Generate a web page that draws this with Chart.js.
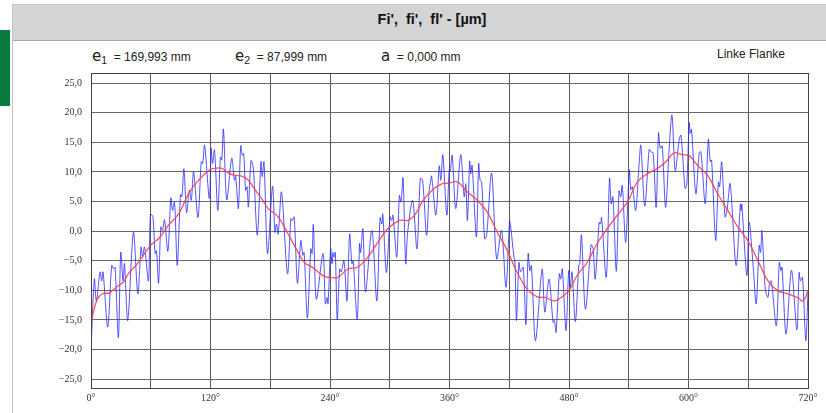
<!DOCTYPE html>
<html><head><meta charset="utf-8">
<script src="https://cdn.jsdelivr.net/npm/chart.js@4.4.1/dist/chart.umd.min.js"></script>
<style>
html,body{margin:0;padding:0;background:#fff;width:826px;height:413px;overflow:hidden;font-family:"Liberation Sans",Arial,sans-serif;}
#green{position:absolute;left:0;top:30px;width:10px;height:76px;background:#087a40;}
#frame{position:absolute;left:12px;top:4px;width:830px;height:420px;border:1px solid #c4c4c4;box-sizing:border-box;}
#head{position:absolute;left:13px;top:5px;width:813px;height:35px;background:#d4d4d4;border-bottom:1px solid #a8a8a8;}
#title{position:absolute;left:38px;width:788px;top:11px;text-align:center;font-weight:bold;font-size:14.5px;color:#111;white-space:pre;}
.info{position:absolute;top:47px;font-size:12px;color:#222;white-space:pre;}
.sym{font-size:15px;font-family:"DejaVu Sans",sans-serif;}
.sub{font-size:10.5px;position:relative;top:3px;}
canvas{position:absolute;left:0;top:0;}
</style></head><body>
<div id="green"></div>
<div id="frame"></div>
<div id="head"></div>
<div id="title">Fi',  fi',  fl' - [µm]</div>
<div class="info" style="left:92px"><span class="sym">e</span><span class="sub">1</span>  = 169,993 mm</div>
<div class="info" style="left:235px"><span class="sym">e</span><span class="sub">2</span>  = 87,999 mm</div>
<div class="info" style="left:381px"><span class="sym">a</span>  = 0,000 mm</div>
<div class="info" style="right:41px">Linke Flanke</div>
<canvas id="c" width="826" height="413"></canvas>
<script>
const xTicks = [0,60,120,180,240,300,360,420,480,540,600,660,720];
const yTicks = [-25,-20,-15,-10,-5,0,5,10,15,20,25];

const blueAngles = [0,3.4,5.4,9.1,10.7,12.1,16.8,20.8,22.8,24.2,27.5,29.9,32.2,33.6,36.9,42.6,47.0,50.3,51.7,53.7,57.7,59.7,62.1,64.4,65.8,67.8,70.1,71.8,73.8,77.2,80.2,81.9,83.9,86.6,89.9,91.3,93.3,96.0,98.7,100.7,103.0,107.4,110.7,112.1,114.1,118.8,
120.7,122.0,124.0,127.3,130.0,131.3,133.0,136.3,141.3,144.0,145.3,148.0,150.3,152.0,153.3,155.3,156.7,158.0,160.7,163.0,167.0,170.7,172.0,173.7,177.3,182.3,184.7,186.3,188.0,191.3,197.3,200.7,202.0,204.0,207.3,210.7,212.7,214.0,217.3,220.7,222.0,223.3,226.3,233.0,235.3,237.0,238.0,
240.7,242.0,243.0,244.0,245.3,247.3,249.7,251.3,254.0,257.0,259.7,262.0,263.3,267.3,269.7,270.7,273.0,275.7,282.0,287.0,290.3,292.0,293.0,296.7,300.3,302.0,303.3,307.0,309.7,311.3,313.3,316.0,318.0,323.0,327.3,330.7,333.0,337.0,339.7,340.7,342.0,346.3,349.7,351.3,353.3,357.3,
359.7,360.7,362.7,366.3,371.3,374.7,376.3,378.0,380.3,381.3,382.7,387.0,389.3,390.7,392.3,395.3,397.3,402.3,407.3,412.3,416.7,420.3,421.3,424.7,425.7,427.3,429.7,431.3,434.0,436.7,439.0,440.7,442.3,446.3,453.0,455.7,460.0,464.0,465.3,467.0,470.3,471.7,473.3,477.0,479.7,
481.3,483.0,486.4,489.8,490.8,492.5,496.5,502.2,504.2,506.3,510.3,511.6,512.7,517.4,520.7,522.4,524.1,527.5,530.2,531.9,533.5,536.9,540.6,542.0,543.6,547.0,550.4,552.1,556.1,560.5,562.2,564.5,567.5,569.9,571.6,573.6,577.0,580.7,583.4,586.7,590.8,592.5,596.5,598.2,
600.7,601.7,603.0,607.4,610.8,612.5,616.8,619.9,621.9,623.2,627.3,630.0,631.3,633.3,636.7,638.7,641.8,647.8,652.2,652.9,653.5,658.6,660.9,665.0,668.0,671.0,672.4,673.7,677.1,679.8,681.5,683.2,688.2,691.2,692.9,693.9,698.0,703.4,708.8,711.1,712.5,714.5,717.8,720.0];
const blueValues = [-20,-8.1,-11.8,-6.9,-8.4,-6.9,-16.2,-5.8,-6.4,-6.1,-18.0,-3.6,-8.4,-5.5,-15.1,-0.2,-10.6,-2.7,-4.4,-2.7,-8.4,2.8,2.5,-3.8,-3.3,-8.8,0.7,0.1,1.9,-3.4,5.6,3.5,4.9,-5.8,6.2,5.8,10.5,3.1,6.9,5.2,10.0,2.3,11.7,11.4,14.5,5.5,
14.0,11.4,13.7,3.5,12.5,12.0,17.2,5.3,12.3,8.6,9.2,3.8,14.4,12.8,13.1,6.9,7.5,4.1,11.9,10.6,-0.7,11.7,9.2,11.7,-3.8,7.6,-0.2,1.2,-0.5,6.6,-7.2,2.1,1.8,2.4,-8.8,-1.6,-4.1,-3.6,-14.7,-3.0,-3.8,1.1,-11.5,-3.8,-12.3,-11.2,-12.3,
-3.0,-5.5,-3.6,-4.4,-3.6,-15.0,-6.4,-6.9,-5.0,-11.8,-0.5,-5.5,-5.0,-15.0,-2.1,-3.6,0.4,-10.3,0.1,-11.8,2.3,1.2,2.9,-7.0,2.4,1.8,2.7,-4.4,6.0,4.9,9.0,-5.5,-0.2,5.2,-3.0,8.9,8.6,-0.7,7.2,8.0,9.3,2.7,11.0,8.6,12.9,2.7,
10.3,10.0,12.8,3.8,12.9,5.8,8.0,1.8,11.8,9.7,11.1,-1.0,11.4,8.6,8.3,-1.3,-0.7,9.8,-4.7,0.1,-9.5,1.7,1.0,-4.4,-5.0,-15.1,-5.3,-6.9,-6.1,-15.8,-3.8,-6.7,-5.8,-18.5,-6.4,-13.7,-8.1,-15.4,-15.1,-17.1,-7.2,-8.1,-6.4,-16.8,-6.7,
-9.5,-6.9,-15.3,-5.8,-5.5,-0.7,-13.2,-2.3,-3.0,-8.1,1.5,1.2,2.3,-7.8,8.9,4.6,5.8,-6.8,6.8,5.8,7.7,-1.9,10.3,7.0,7.5,3.5,11.4,14.5,4.2,13.8,13.4,13.2,4.0,16.6,14.0,14.4,4.0,14.2,19.6,10.2,15.6,16.2,7.2,7.7,
18.3,16.5,17.2,6.3,13.2,13.4,4.6,15.5,11.7,12.0,-1.6,8.3,7.5,11.7,2.4,3.5,8.0,-5.8,4.6,3.5,4.5,-7.5,1.5,-6.1,-12.3,-2.4,-3.6,0.1,-9.8,-11.2,-8.6,-8.4,-16.0,-5.3,-6.7,-6.1,-17.4,-6.6,-16.7,-7.0,-8.4,-7.8,-18.5,-10.1];

const redAngles = [0,4,7.4,12.4,17.4,22.5,27.5,32.6,37.6,47.7,59.7,67.8,77.9,87.9,98,108,119.8,124.7,131.3,138,144.7,151.3,158,164.7,171.3,178,188,198,208,214.7,221.3,228,234.7,239.7,248,258,268,278,288,298,309.7,318,324.7,334.7,344.7,353,359.7,368,378,388,398,408,418,428,438,448,456.3,464.7,471.3,479.7,488.1,498.2,508.3,518.4,528.5,538.6,548.7,558.8,568.9,577.3,585.7,594.1,600.9,609.1,619.2,629.3,639.4,649.5,659.6,669.7,679.8,689.9,700,710.1,715.2,720];
const redValues = [-15.6,-12.6,-11.2,-10.5,-10.5,-9.9,-9.2,-8.6,-7.2,-5.3,-2.4,-1.3,1.0,2.9,6.3,8.6,10.4,10.6,10.6,9.8,9.4,9.3,8.6,7.0,5.5,3.8,2.4,-0.5,-3.6,-5.4,-6.0,-6.9,-7.7,-7.8,-7.8,-6.4,-6.1,-4.4,-1.9,0.4,1.8,1.8,2.6,5.5,7.2,8.0,8.1,8.3,6.6,5.2,3.2,-0.2,-3.3,-7.0,-9.8,-11.1,-11.2,-11.8,-11.3,-10.1,-7.5,-5.3,-2.1,0.4,2.7,4.9,8.3,9.7,10.6,11.7,13.2,12.9,12.7,11.1,9.4,6.3,3.5,0.7,-1.6,-5.0,-8.4,-10.1,-10.6,-11.3,-11.8,-10.1];

const bluePts = blueAngles.map((a,i)=>({x:a,y:blueValues[i]}));
const redPts = redAngles.map((a,i)=>({x:a,y:redValues[i]}));

const framePlugin = {
  id:'frameBox',
  afterDraw(chart){
    const {ctx, chartArea:a} = chart;
    ctx.save();
    ctx.strokeStyle='#444';
    ctx.lineWidth=1;
    ctx.strokeRect(Math.round(a.left)+0.5, Math.round(a.top)+0.5, Math.round(a.right-a.left), Math.round(a.bottom-a.top));
    ctx.restore();
  }
};

const fmt = v => (v<0?'\u2212':'') + Math.abs(v).toFixed(1).replace('.',',');

new Chart(document.getElementById('c'), {
  type:'line',
  data:{datasets:[
    {data:bluePts, borderColor:'rgba(40,40,255,0.8)', borderWidth:1, pointRadius:0, tension:0.3, order:2},
    {data:redPts, borderColor:'rgba(255,60,70,0.9)', borderWidth:1.3, pointRadius:0, tension:0.4, order:1}
  ]},
  options:{
    responsive:false, animation:false, devicePixelRatio:1,
    layout:{padding:{left:0,right:18,top:73,bottom:0}},
    plugins:{legend:{display:false}, tooltip:{enabled:false}},
    scales:{
      x:{type:'linear', min:0, max:720,
        afterBuildTicks:s=>{s.ticks = xTicks.map(v=>({value:v}));},
        afterFit:s=>{s.height=25;},
        grid:{color:'#5a5a5a', lineWidth:1, drawTicks:false},
        border:{color:'#444'},
        ticks:{autoSkip:false, maxRotation:0, padding:4, color:'#333',
          font:{family:'"Liberation Serif", serif', size:10},
          callback:v=> (v%120===0 ? v+'\u00b0' : '')}
      },
      y:{type:'linear', min:-26.5, max:26.7,
        afterBuildTicks:s=>{s.ticks = yTicks.map(v=>({value:v}));},
        afterFit:s=>{s.width=91;},
        grid:{color:'#6a6a6a', lineWidth:1, drawTicks:false},
        border:{color:'#444'},
        ticks:{padding:9, color:'#333',
          font:{family:'"Liberation Serif", serif', size:10},
          callback:v=>fmt(v)}
      }
    }
  },
  plugins:[framePlugin]
});
</script>
</body></html>
